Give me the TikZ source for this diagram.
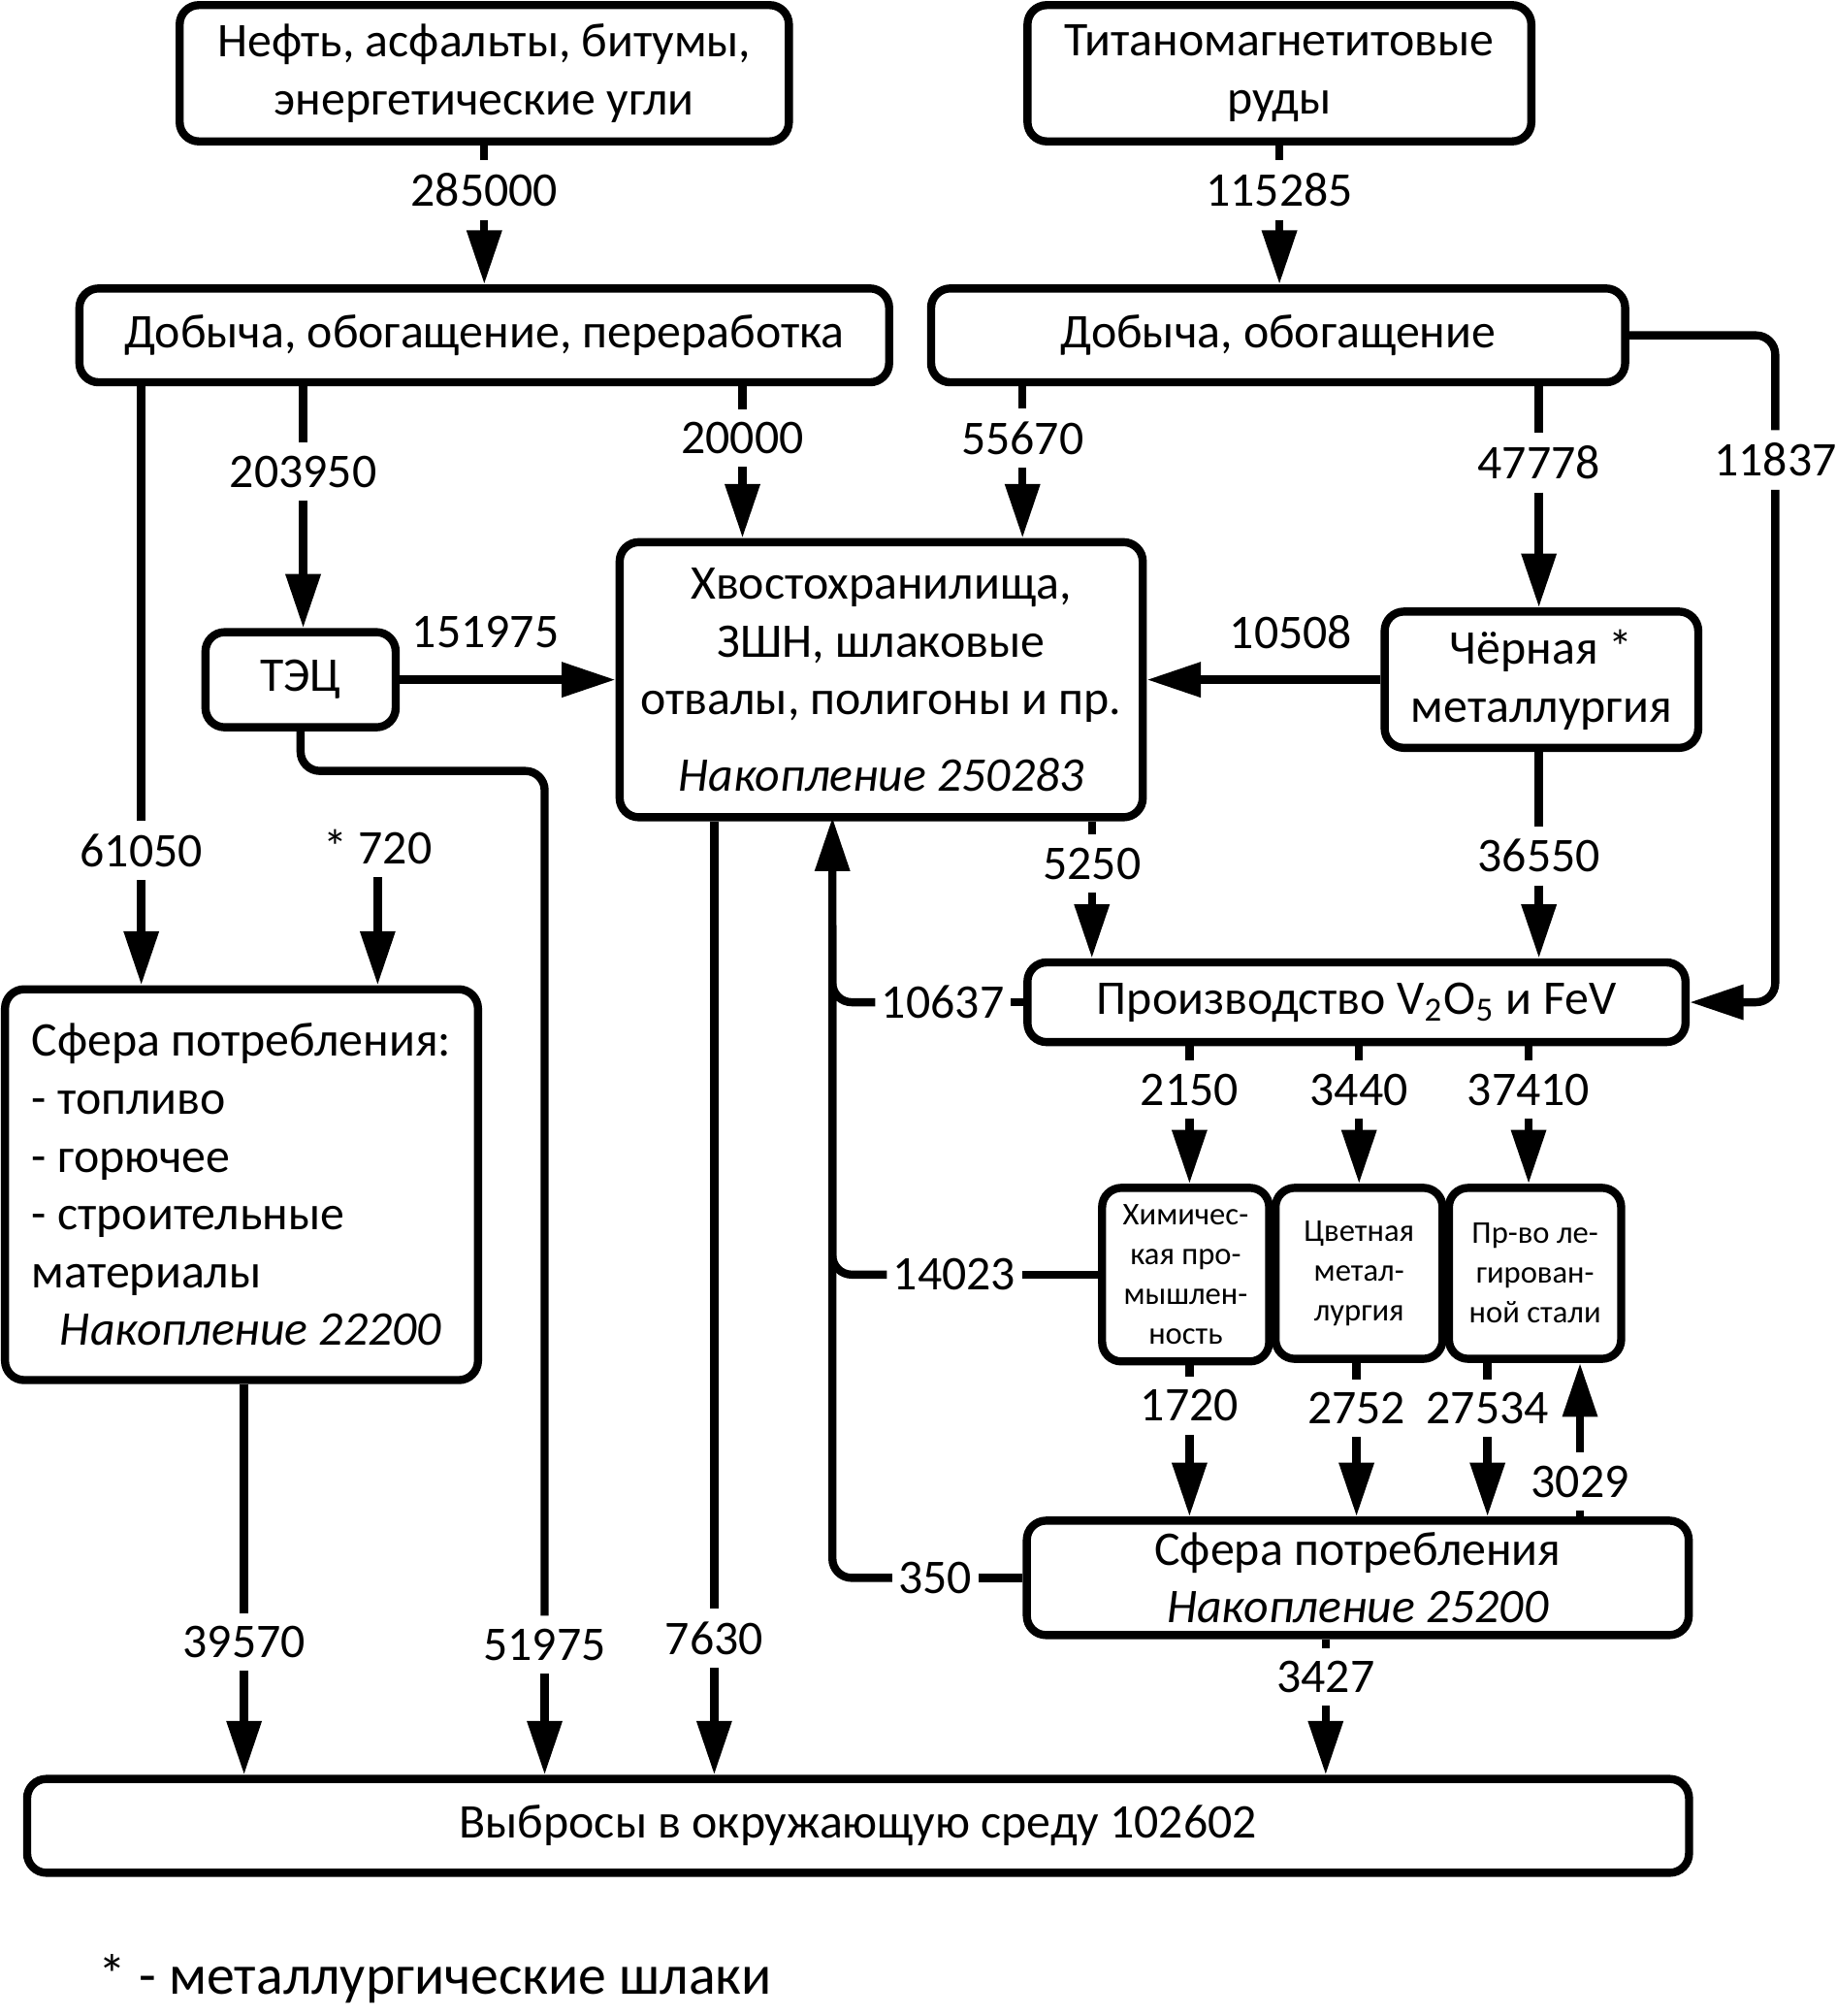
\documentclass[tikz,border=0pt]{standalone}
\usepackage{fontspec}
\setmainfont{Carlito}
\usetikzlibrary{arrows.meta}

\begin{document}
\begin{tikzpicture}[x=0.01cm,y=-0.01cm,
    font=\fontsize{10.7}{12.8}\selectfont,
    line width=1.8pt,
    >={Triangle[length=0.42cm,width=0.26cm]},
    box/.style={draw=black,rounded corners=0.15cm,align=center,inner sep=0pt},
    small/.style={box,font=\fontsize{7}{8.8}\selectfont},
    num/.style={inner xsep=0.5pt,inner ysep=2pt}]
    \useasboundingbox (0,0) rectangle (1430,1569);

    % boxes
    \node[box,minimum width=4.74cm,minimum height=1.06cm] (A) at (377,57) {Нефть, асфальты, битумы,\\энергетические угли};
    \node[box,minimum width=3.92cm,minimum height=1.06cm] (B) at (996,57) {Титаномагнетитовые\\руды};
    \node[box,minimum width=6.30cm,minimum height=0.73cm] (C) at (377,261) {Добыча, обогащение, переработка};
    \node[box,minimum width=5.40cm,minimum height=0.73cm] (D) at (995,261) {Добыча, обогащение};
    \node[box,minimum width=1.48cm,minimum height=0.74cm] (E) at (234,529) {ТЭЦ};
    \node[box,minimum width=4.07cm,minimum height=2.14cm] (F) at (686,529) {Хвостохранилища,\\ЗШН, шлаковые\\отвалы, полигоны и пр.\\[0.14cm]\textit{Накопление 250283}};
    \node[box,minimum width=2.44cm,minimum height=1.06cm] (G) at (1200,529) {Чёрная *\\металлургия};
    \node[box,minimum width=5.12cm,minimum height=0.62cm] (H) at (1056,780) {Производство V\textsubscript{2}O\textsubscript{5} и FeV};
    \node[small,minimum width=1.30cm,minimum height=1.35cm] (I1) at (923,992) {Химичес-\\кая про-\\мышлен-\\ность};
    \node[small,minimum width=1.30cm,minimum height=1.33cm] (I2) at (1058,991) {Цветная\\метал-\\лургия};
    \node[small,minimum width=1.34cm,minimum height=1.33cm] (I3) at (1195,991) {Пр-во ле-\\гирован-\\ной стали};
    \node[box,minimum width=5.15cm,minimum height=0.89cm] (J) at (1057,1228) {Сфера потребления\\\textit{Накопление 25200}};
    \node[box,minimum width=3.68cm,minimum height=3.04cm,align=left] (K) at (188,922) {Сфера потребления:\\- топливо\\- горючее\\- строительные\\материалы\\\hspace*{0.22cm}\textit{Накопление 22200}};
    \node[box,minimum width=12.93cm,minimum height=0.73cm] (L) at (668,1421) {Выбросы в окружающую среду 102602};
    \node[anchor=west,font=\fontsize{12.4}{14}\selectfont] (M) at (62,1540) {* - металлургические шлаки};

    % flows
    \node[num] (n1) at (377,148) {285000};
    \node[num] (n2) at (996,148) {115285};
    \node[num] (n3) at (236,367) {203950};
    \node[num] (n4) at (578,341) {20000};
    \node[num] (n5) at (796,341) {55670};
    \node[num] (n6) at (1198,360) {47778};
    \node[num] (n7) at (1382,358) {11837};
    \node[num] (n8) at (378,492) {151975};
    \node[num] (n9) at (1005,492) {10508};
    \node[num] (n10) at (110,662) {61050};
    \node[num] (n11) at (294,659) {* 720};
    \node[num] (n12) at (850,672) {5250};
    \node[num] (n13) at (1198,666) {36550};
    \node[num] (n14) at (734,780) {10637};
    \node[num] (n15) at (926,848) {2150};
    \node[num] (n16) at (1058,848) {3440};
    \node[num] (n17) at (1190,848) {37410};
    \node[num] (n18) at (743,992) {14023};
    \node[num] (n19) at (926,1094) {1720};
    \node[num] (n20) at (1056,1096) {2752};
    \node[num] (n21) at (1158,1096) {27534};
    \node[num] (n22) at (1230,1153) {3029};
    \node[num] (n23) at (728,1228) {350};
    \node[num] (n24) at (190,1278) {39570};
    \node[num] (n25) at (424,1280) {51975};
    \node[num] (n26) at (556,1275) {7630};
    \node[num] (n27) at (1032,1305) {3427};

    \coordinate (T) at (424,600);
    \coordinate (Q) at (648,636);
    \coordinate (Q1) at (648,720);

    \draw
        (A.south -| n1) -- (n1.north)
        (B.south -| n2) -- (n2.north)
        (C.south -| n3) -- (n3.north)
        (C.south -| n4) -- (n4.north)
        (D.south -| n5) -- (n5.north)
        (D.south -| n6) -- (n6.north)
        (C.south -| n10) -- (n10.north)
        (F.south -| n12) -- (n12.north)
        (G.south -| n13) -- (n13.north)
        (H.south -| n15) -- (n15.north)
        (H.south -| n16) -- (n16.north)
        (H.south -| n17) -- (n17.north)
        (I1.south -| n19) -- (n19.north)
        (I2.south -| n20) -- (n20.north)
        (I3.south -| n21) -- (n21.north)
        (K.south -| n24) -- (n24.north)
        (F.south -| n26) -- (n26.north)
        (J.south -| n27) -- (n27.north)
        (J.north -| n22) -- (n22.south)
        (H.west) -- (n14.east)
        (I1.west) -- (n18.east)
        (J.west) -- (n23.east);

    \foreach \a/\b in {n1/C,n2/D,n3/E,n4/F,n5/F,n6/G,n10/K,n11/K,n12/H,n13/H,
                       n15/I1,n16/I2,n17/I3,n19/J,n20/J,n21/J,n24/L,n25/L,n26/L,n27/L}
        \draw[->] (\a.south) -- (\b.north -| \a);

    \draw[->] (n22.north) -- (I3.south -| n22);
    \draw[->] (E.east) -- (F.west);
    \draw[->] (G.west) -- (F.east);

    \draw[rounded corners=0.15cm]
        (E.south) |- (T) -- (n25.north)
        (D.east) -| (n7.north)
        (n14.west) -| (Q1)
        (n18.west) -| (Q1);
    \draw[->,rounded corners=0.15cm] (n7.south) |- (H.east);
    \draw[->,rounded corners=0.15cm] (n23.west) -| (Q);
\end{tikzpicture}
\end{document}
